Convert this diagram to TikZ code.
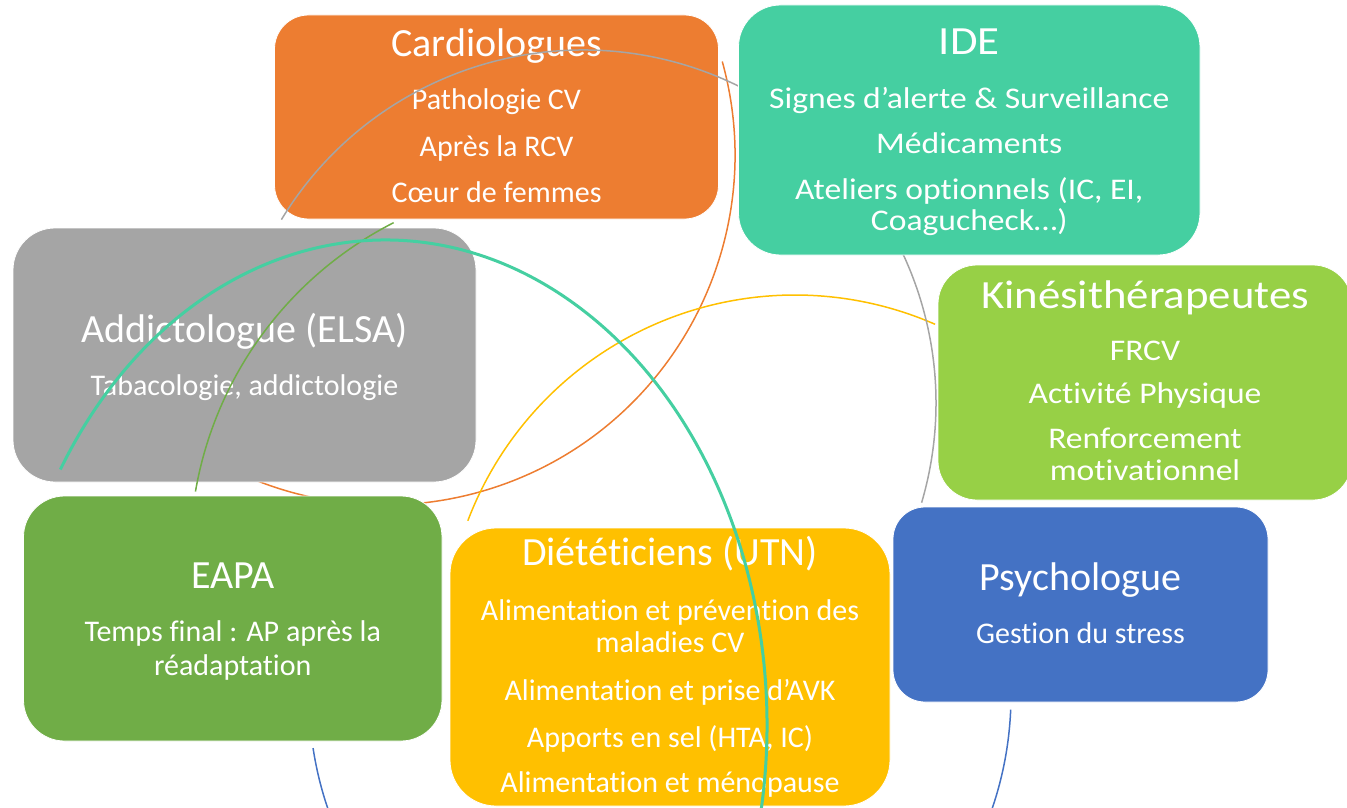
\documentclass[tikz,border=0pt]{standalone}
\usepackage{fontspec}
\setmainfont{Carlito}[RawFeature=-liga]
\newfontfamily\widefont[FakeStretch=1.12,RawFeature=-liga]{Carlito}
\definecolor{cOrange}{HTML}{ED7D31}
\definecolor{cTeal}{HTML}{45CFA1}
\definecolor{cLime}{HTML}{97D046}
\definecolor{cGray}{HTML}{A5A5A5}
\definecolor{cGreen}{HTML}{70AD47}
\definecolor{cGold}{HTML}{FFC000}
\definecolor{cBlue}{HTML}{4472C4}
\tikzset{
  box/.style={rectangle, draw=white, line width=0.8pt, inner sep=0pt},
  ttl/.style={anchor=base, text=white, inner sep=0pt, font=\fontsize{40}{48}\selectfont},
  txt/.style={anchor=base, text=white, inner sep=0pt, font=\fontsize{30}{36}\selectfont},
  wttl/.style={ttl, font=\widefont\fontsize{40}{48}\selectfont},
  wtxt/.style={txt, font=\widefont\fontsize{30}{36}\selectfont},
  arcline/.style={line width=1.5pt},
}
\begin{document}
\begin{tikzpicture}[x=1pt,y=1pt]
\useasboundingbox (0,0) rectangle (1347,-808);
\clip (0,0) rectangle (1347,-808);

% centres of the arcs
\coordinate (Oo) at (385,-155);
\coordinate (Oy) at (795,-645);
\coordinate (Ob) at (660,-695);
\coordinate (Og) at (583,-403);
\coordinate (Ogr) at (563,-555);
\coordinate (Ot) at (385,-725);

% arcs behind the boxes
\draw[arcline, draw=cOrange] (Oo) ++(15.5:350pt) arc[start angle=15.5, end angle=-115, radius=350pt];
\draw[arcline, draw=cGold] (Oy) ++(159.2:350pt) arc[start angle=159.2, end angle=66.4, radius=350pt];
\draw[arcline, draw=cBlue] (Ob) ++(188.7:351pt) arc[start angle=188.7, end angle=357.6, radius=351pt];

% Cardiologues
\node[box, fill=cOrange, minimum width=444pt, minimum height=204pt, rounded corners=34pt] (cardio) at (496.5,-117) {};
\node[ttl] (cardioT) at (496.5,-57) {Cardiologues};
\node[txt] (cardio1) at (496.5,-110) {Pathologie CV};
\node[txt] (cardio2) at (496.5,-156) {Après la RCV};
\node[txt] (cardio3) at (496.5,-202) {Cœur de femmes};

% gray arc over Cardiologues, under IDE
\draw[arcline, draw=cGray] (Og) ++(148.7:353pt) arc[start angle=148.7, end angle=-16.4, radius=353pt];

% IDE
\node[box, fill=cTeal, minimum width=461.5pt, minimum height=250pt, rounded corners=42pt] (ide) at (969.25,-130) {};
\node[wttl] (ideT) at (969.25,-55) {IDE};
\node[wtxt] (ide1) at (969.25,-108) {Signes d’alerte \& Surveillance};
\node[wtxt] (ide2) at (969.25,-153) {Médicaments};
\node[wtxt] (ide3) at (969.25,-199) {Ateliers optionnels (IC, EI,};
\node[wtxt] (ide4) at (969.25,-230) {Coagucheck…)};

% Kinesitherapeutes
\node[box, fill=cLime, minimum width=414pt, minimum height=235pt, rounded corners=39pt] (kine) at (1145,-382.5) {};
\node[wttl] (kineT) at (1145,-308) {Kinésithérapeutes};
\node[wtxt] (kine1) at (1145,-360) {FRCV};
\node[wtxt] (kine2) at (1145,-403) {Activité Physique};
\node[wtxt] (kine3) at (1145,-448) {Renforcement};
\node[wtxt] (kine4) at (1145,-480) {motivationnel};

% Psychologue
\node[box, fill=cBlue, minimum width=375pt, minimum height=195pt, rounded corners=32pt] (psy) at (1080.5,-604.5) {};
\node[ttl] (psyT) at (1080.5,-590) {Psychologue};
\node[txt] (psy1) at (1080.5,-643) {Gestion du stress};

% Dieteticiens
\node[box, fill=cGold, minimum width=440pt, minimum height=278pt, rounded corners=46pt] (diet) at (670,-667) {};
\node[ttl] (dietT) at (670,-565) {Diététiciens (UTN)};
\node[txt] (diet1) at (670,-620) {Alimentation et prévention des};
\node[txt] (diet2) at (670,-652) {maladies CV};
\node[txt] (diet3) at (670,-700) {Alimentation et prise d’AVK};
\node[txt] (diet4) at (670,-747) {Apports en sel (HTA, IC)};
\node[txt] (diet5) at (670,-792) {Alimentation et ménopause};

% EAPA
\node[box, fill=cGreen, minimum width=418.5pt, minimum height=245pt, rounded corners=41pt] (eapa) at (232.75,-618.5) {};
\node[ttl] (eapaT) at (232.75,-588) {EAPA};
\node[txt] (eapa1) at (232.75,-641) {Temps final : AP après la};
\node[txt] (eapa2) at (232.75,-675) {réadaptation};

% Addictologue
\node[box, fill=cGray, minimum width=463pt, minimum height=254pt, rounded corners=42pt] (addict) at (244.5,-355) {};
\node[ttl] (addictT) at (244.5,-342) {Addictologue (ELSA)};
\node[txt] (addict1) at (244.5,-395) {Tabacologie, addictologie};

% arcs over the boxes
\draw[arcline, draw=cGreen] (Ogr) ++(170.2:373pt) arc[start angle=170.2, end angle=117, radius=373pt];
\draw[line width=3pt, draw=cTeal] (Ot) ++({382*cos(148.2)},{485*sin(148.2)}) arc[start angle=148.2, end angle=-20, x radius=382pt, y radius=485pt];
\end{tikzpicture}
\end{document}
